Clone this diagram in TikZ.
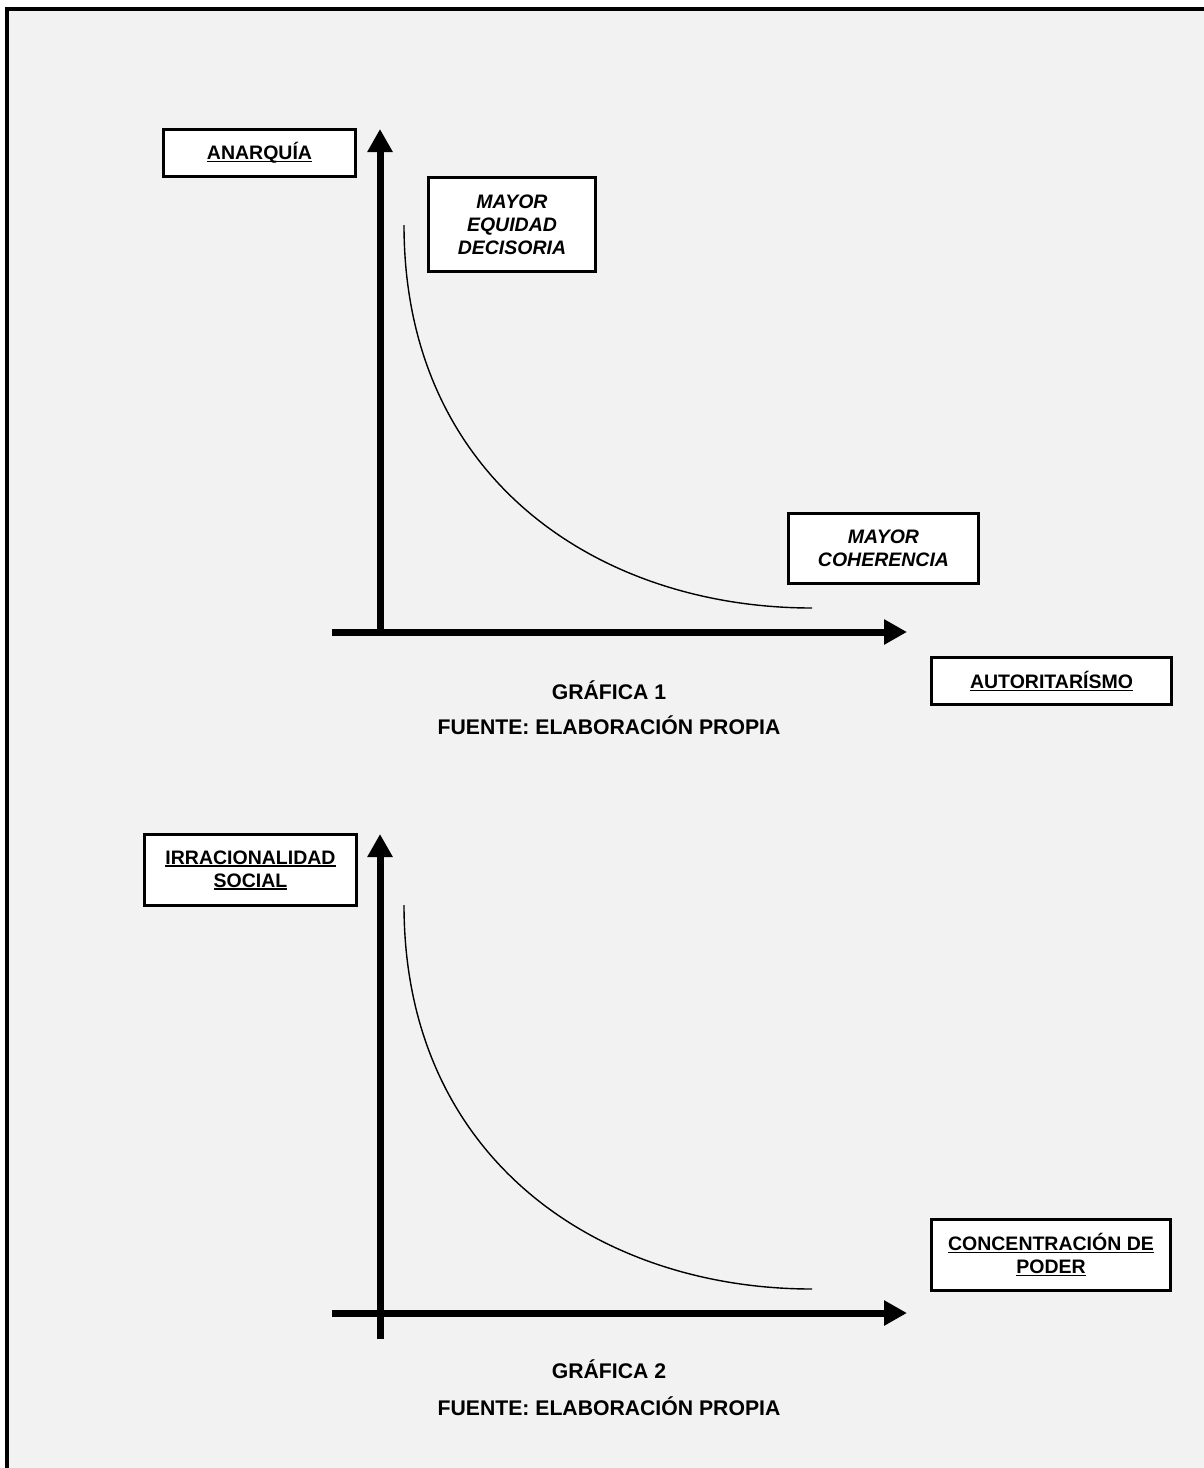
\documentclass[tikz,border=0pt]{standalone}
\usepackage{fontspec}
\setmainfont{Liberation Sans}
\usetikzlibrary{arrows.meta}
\definecolor{bgc}{HTML}{F2F2F2}
\newlength\ulw
\newcommand\ulx[1]{\settowidth\ulw{#1}\rlap{\rule[-2.4pt]{\ulw}{1.3pt}}#1}
\tikzset{
  lbl/.style={draw, line width=3pt, fill=white, inner sep=0pt, align=center,
    font=\fontsize{19.5}{23}\selectfont\bfseries},
  ilbl/.style={lbl, font=\fontsize{19.5}{23}\selectfont\bfseries\itshape},
  captxt/.style={inner sep=0pt, font=\fontsize{21.2}{25}\selectfont\bfseries},
  axis/.style={line width=7pt, -{Triangle[length=23pt,width=24pt]}},
  curve/.style={line width=1.4pt}
}
\begin{document}
\begin{tikzpicture}[x=1pt,y=-1pt]
\useasboundingbox (0,0) rectangle (1204,1468);
\fill[white] (0,0) rectangle (1204,1468);
\fill[bgc] (7,8.5) rectangle (1204,1468);
\draw[line width=4pt] (7,1468) -- (7,8.5) -- (1204,8.5);

% ---------- Graph 1 ----------
\coordinate (o1) at (380,636);
\coordinate (yt1) at (380,129);
\coordinate (xs1) at (332,632);
\coordinate (xt1) at (907,632);
\draw[axis] (o1) -- (yt1);
\draw[axis] (xs1) -- (xt1);
\coordinate (c1a) at (404,225);
\coordinate (c1b) at (812,608);
\draw[curve] (c1a) .. controls (404,480) and (600,608) .. (c1b);

\node[lbl, minimum width=192pt, minimum height=47pt] (anar) at (259.5,153) {\ulx{ANARQUÍA}};
\node[ilbl, minimum width=167pt, minimum height=94pt] (equi) at (512,224.5) {MAYOR\\EQUIDAD\\DECISORIA};
\node[ilbl, minimum width=190pt, minimum height=70pt] (cohe) at (883.5,548.5) {MAYOR\\COHERENCIA};
\node[lbl, minimum width=240pt, minimum height=47pt] (auto) at (1051.5,681) {\ulx{AUTORITARÍSMO}};
\node[captxt] (g1) at (609,690) {GRÁFICA 1};
\node[captxt] (f1) at (609,725) {FUENTE: ELABORACIÓN PROPIA};

% ---------- Graph 2 ----------
\coordinate (o2) at (380,1339);
\coordinate (yt2) at (380,834);
\coordinate (xs2) at (332,1313);
\coordinate (xt2) at (907,1313);
\draw[axis] (o2) -- (yt2);
\draw[axis] (xs2) -- (xt2);
\coordinate (c2a) at (404,905);
\coordinate (c2b) at (812,1289);
\draw[curve] (c2a) .. controls (404,1160) and (600,1289) .. (c2b);

\node[lbl, minimum width=212pt, minimum height=71pt] (irra) at (250.5,870) {\ulx{IRRACIONALIDAD}\\\ulx{SOCIAL}};
\node[lbl, minimum width=239pt, minimum height=71pt] (conc) at (1051,1255) {\ulx{CONCENTRACIÓN DE}\\\ulx{PODER}};
\node[captxt] (g2) at (609,1369) {GRÁFICA 2};
\node[captxt] (f2) at (609,1406) {FUENTE: ELABORACIÓN PROPIA};
\end{tikzpicture}
\end{document}
